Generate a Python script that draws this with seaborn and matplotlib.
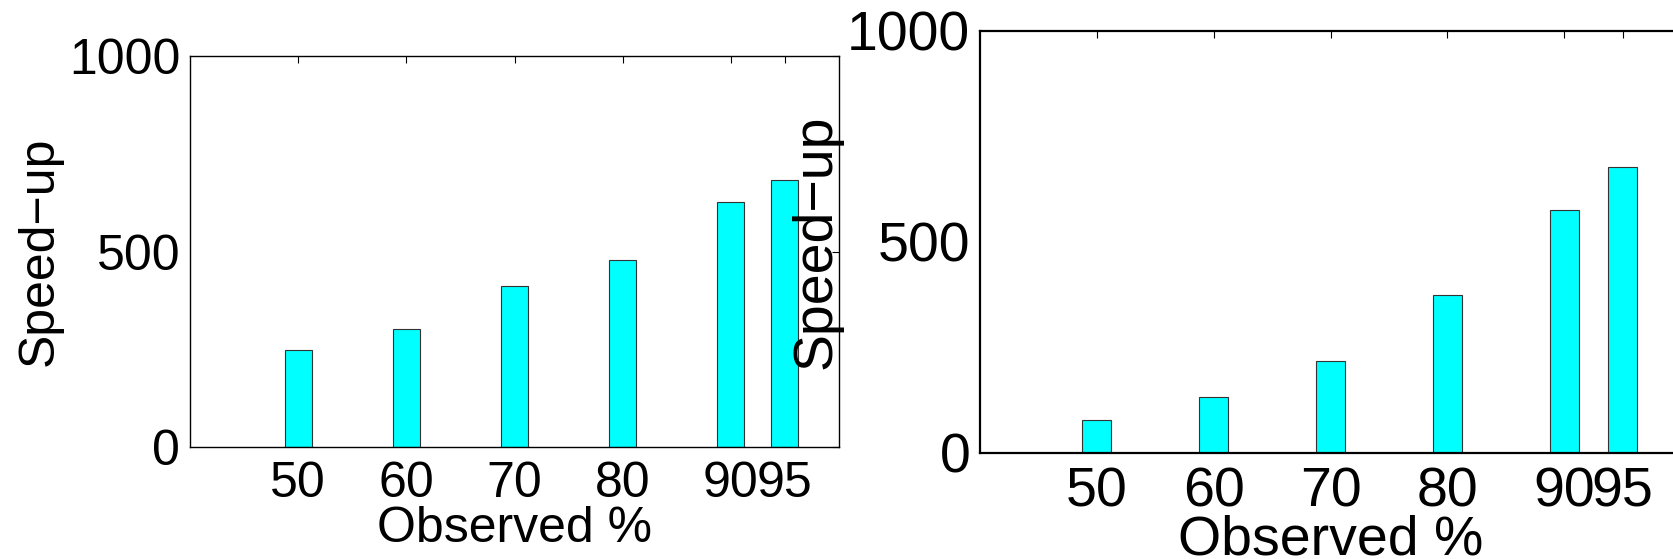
import matplotlib
matplotlib.use("Agg")
import matplotlib.pyplot as plt
import seaborn as sns
import pandas as pd

observed = [50, 60, 70, 80, 90, 95]
speedup_left = [249, 301, 411, 478, 626, 684]
speedup_right = [78, 132, 216, 373, 576, 676]
yticks = [0, 500, 1000]
xlabel = "Observed %"
ylabel = "Speed\u2212up"

sns.set_theme(style="white")
plt.rcParams['font.family'] = ['Liberation Sans', 'DejaVu Sans']
plt.rcParams['text.color'] = 'black'
plt.rcParams['axes.labelcolor'] = 'black'
plt.rcParams['xtick.color'] = 'black'
plt.rcParams['ytick.color'] = 'black'

W, H = 1674, 559
fig = plt.figure(figsize=(W / 100, H / 100), dpi=100)

specs = [
    # (left, top, right, bottom px), values, fontsize, xlabel y, spine width
    ((190, 56, 839, 447), speedup_left, 36, -0.151, 1.0),
    ((980, 30.7, 1681, 452.5), speedup_right, 40, -0.148, 1.6),
]

for (l, t, r, b), vals, fs, xly, lw in specs:
    ax = fig.add_axes([l / W, 1 - b / H, (r - l) / W, (b - t) / H])
    df = pd.DataFrame({"obs": observed, "speed": vals})
    sns.barplot(data=df, x="obs", y="speed", native_scale=True, width=0.5,
                color="#00FFFF", saturation=1, edgecolor="#333333", linewidth=0.8,
                ax=ax)
    ax.set_xlim(40, 100)
    ax.set_ylim(0, 1000)
    ax.set_xticks(observed)
    ax.set_xticklabels([str(v) for v in observed])
    ax.set_yticks(yticks)
    ax.set_yticklabels([str(v) for v in yticks])
    ax.tick_params(axis='both', direction='in', length=5, width=0.8, color='black',
                   labelcolor='black', top=True, right=True, labelsize=fs)
    ax.tick_params(axis='x', pad=10)
    ax.tick_params(axis='y', pad=7)
    for s in ax.spines.values():
        s.set_visible(True)
        s.set_color('black')
        s.set_linewidth(lw)
    ax.set_xlabel(xlabel, fontsize=fs, color='black')
    ax.set_ylabel(ylabel, fontsize=fs, color='black')
    ax.yaxis.set_label_coords(-0.196, 0.5)
    ax.xaxis.set_label_coords(0.5, xly)
    ax.grid(False)
    ax.set_facecolor('white')

fig.savefig("out.png", dpi=100, facecolor='white')
